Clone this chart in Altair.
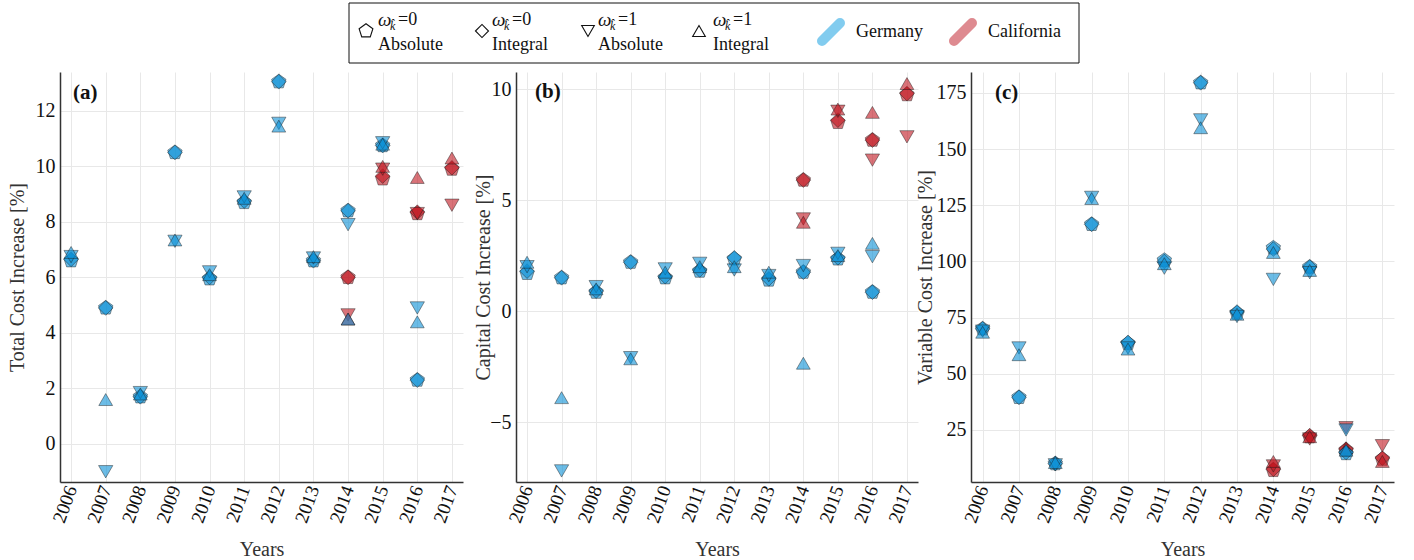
import altair as alt
import pandas as pd

# ---------------- data ----------------
YEARS_TICKS = [2006, 2007, 2008, 2009, 2010, 2011, 2012, 2013, 2014, 2015, 2016, 2017]
YEARS_DE = [2006, 2007, 2008, 2009, 2010, 2011, 2012, 2013, 2014, 2015, 2016]
YEARS_CA = [2014, 2015, 2016, 2017]
SERIES = ["w0 Absolute", "w0 Integral", "w1 Absolute", "w1 Integral"]
REGIONS = ["Germany", "California"]

# (a) Total cost increase [%]
a_de_w0_abs = [6.6, 4.9, 1.7, 10.5, 5.95, 8.7, 13.05, 6.6, 8.4, 10.75, 2.3]
a_de_w0_int = [6.65, 4.9, 1.7, 10.5, 6.0, 8.75, 13.05, 6.6, 8.4, 10.75, 2.3]
a_de_w1_abs = [6.75, -1.0, 1.85, 7.3, 6.2, 8.9, 11.55, 6.7, 7.9, 10.85, 4.9]
a_de_w1_int = [6.9, 1.6, 1.8, 7.35, 6.1, 8.85, 11.45, 6.75, 4.5, 10.8, 4.4]
a_ca_w0_abs = [6.0, 9.55, 8.3, 9.9]
a_ca_w0_int = [6.0, 9.65, 8.35, 9.95]
a_ca_w1_abs = [4.65, 9.9, 8.3, 8.6]
a_ca_w1_int = [4.5, 10.0, 9.6, 10.3]

# (b) Capital cost increase [%]
b_de_w0_abs = [1.7, 1.5, 0.85, 2.2, 1.5, 1.8, 2.35, 1.4, 1.75, 2.35, 0.85]
b_de_w0_int = [1.8, 1.5, 0.9, 2.2, 1.55, 1.85, 2.4, 1.45, 1.75, 2.4, 0.85]
b_de_w1_abs = [2.0, -7.2, 1.1, -2.1, 1.9, 2.15, 1.85, 1.6, 2.05, 2.6, 2.45]
b_de_w1_int = [2.2, -3.9, 1.0, -2.15, 1.75, 2.0, 2.0, 1.75, -2.35, 2.5, 3.05]
b_ca_w0_abs = [5.9, 8.5, 7.7, 9.75]
b_ca_w0_int = [5.9, 8.6, 7.7, 9.8]
b_ca_w1_abs = [4.15, 9.0, 6.8, 7.85]
b_ca_w1_int = [4.0, 9.1, 8.95, 10.25]

# (c) Variable cost increase [%]
c_de_w0_abs = [70, 39.5, 10, 116.5, 63.5, 100.5, 179.5, 77, 106, 97.5, 14.5]
c_de_w0_int = [70, 39.5, 10, 116.5, 64, 100, 179.5, 77.5, 105.5, 97.5, 15]
c_de_w1_abs = [69, 61.5, 9.5, 128.5, 61.5, 97, 163, 75.5, 92, 95, 25]
c_de_w1_int = [68.5, 58.5, 10.5, 128, 61, 99, 159.5, 76.5, 104, 96, 16]
c_ca_w0_abs = [7, 22, 16, 12]
c_ca_w0_int = [7.5, 22.5, 16.5, 12.5]
c_ca_w1_abs = [9, 21, 26, 18]
c_ca_w1_int = [11, 22, 17, 11]

LEGEND_LINE1 = ["=0", "=0", "=1", "=1"]
LEGEND_LINE2 = ["Absolute", "Integral", "Absolute", "Integral"]


def build(de_lists, ca_lists):
    rows = []
    for s, vals in zip(SERIES, ca_lists):
        for yr, v in zip(YEARS_CA, vals):
            rows.append({"year": yr, "value": v, "series": s, "region": "California"})
    for s, vals in zip(SERIES, de_lists):
        for yr, v in zip(YEARS_DE, vals):
            rows.append({"year": yr, "value": v, "series": s, "region": "Germany"})
    return pd.DataFrame(rows)


df_a = build([a_de_w0_abs, a_de_w0_int, a_de_w1_abs, a_de_w1_int],
             [a_ca_w0_abs, a_ca_w0_int, a_ca_w1_abs, a_ca_w1_int])
df_b = build([b_de_w0_abs, b_de_w0_int, b_de_w1_abs, b_de_w1_int],
             [b_ca_w0_abs, b_ca_w0_int, b_ca_w1_abs, b_ca_w1_int])
df_c = build([c_de_w0_abs, c_de_w0_int, c_de_w1_abs, c_de_w1_int],
             [c_ca_w0_abs, c_ca_w0_int, c_ca_w1_abs, c_ca_w1_int])

# ---------------- style ----------------
FONT = "Liberation Serif"
PENT = "M0,-1L0.951,-0.309L0.588,0.809L-0.588,0.809L-0.951,-0.309Z"
SHAPES = [PENT, "diamond", "triangle-down", "triangle-up"]
SIZES = [230, 190, 180, 180]
BLUE = "#0a8fd6"
RED = "#c0161f"
H = 410
one = pd.DataFrame({"k": [0]})


def panel(df, width, ydom, yticks, ytitle, title_x, label, lab_x, lab_y):
    pts = alt.Chart(df).mark_point(
        filled=True, opacity=1, fillOpacity=0.6,
        stroke="#1a1a1a", strokeWidth=0.8, strokeOpacity=0.55,
    ).encode(
        x=alt.X("year:Q",
                scale=alt.Scale(domain=[2005.68, 2017.32], nice=False, zero=False),
                axis=alt.Axis(values=YEARS_TICKS, format="d", labelAngle=290,
                              title="Years", titleX=width / 2, titleY=67,
                              titleBaseline="middle", labelPadding=4)),
        y=alt.Y("value:Q",
                scale=alt.Scale(domain=ydom, nice=False, zero=False),
                axis=alt.Axis(values=yticks, title=ytitle, titleX=title_x,
                              titleY=H / 2, titleBaseline="middle",
                              titleAlign="center", titleAngle=270,
                              labelPadding=5)),
        shape=alt.Shape("series:N", scale=alt.Scale(domain=SERIES, range=SHAPES), legend=None),
        size=alt.Size("series:N", scale=alt.Scale(domain=SERIES, range=SIZES), legend=None),
        color=alt.Color("region:N", scale=alt.Scale(domain=REGIONS, range=[BLUE, RED]), legend=None),
    )
    lab = alt.Chart(one).mark_text(
        text=label, font=FONT, fontSize=21, fontWeight="bold", align="left",
        baseline="middle", color="#111",
    ).encode(x=alt.value(lab_x), y=alt.value(lab_y))
    return pts, lab


pa, la = panel(df_a, 403, [-1.37, 13.4], [0, 2, 4, 6, 8, 10, 12],
               "Total Cost Increase [%]", -43, "(a)", 13, 21)
pb, lb = panel(df_b, 402, [-7.7, 10.77], [-5, 0, 5, 10],
               "Capital Cost Increase [%]", -33, "(b)", 19, 20)
pc, lc = panel(df_c, 423, [1.85, 184.3], [25, 50, 75, 100, 125, 150, 175],
               "Variable Cost Increase [%]", -46, "(c)", 24, 21)

# ---------------- legend (drawn in panel b, pixel offsets relative to its plot) ----------------
leg_layers = []
leg_layers.append(alt.Chart(one).mark_rect(fill="white", stroke="#111", strokeWidth=1).encode(
    x=alt.value(-167), x2=alt.value(563), y=alt.value(-69), y2=alt.value(-9)))
sym_x = [-150, -34, 72, 183]
txt_x = [-138, -24, 82, 197]
for i in range(4):
    leg_layers.append(alt.Chart(one).mark_point(
        shape=SHAPES[i], size=SIZES[i] - 20, filled=False, stroke="#111", strokeWidth=1.1, opacity=1
    ).encode(x=alt.value(sym_x[i]), y=alt.value(-41)))
    leg_layers.append(alt.Chart(one).mark_text(
        text="ω", font=FONT, fontSize=19, fontStyle="italic", align="left", baseline="middle", color="#111"
    ).encode(x=alt.value(txt_x[i]), y=alt.value(-52)))
    leg_layers.append(alt.Chart(one).mark_text(
        text="k̂", font=FONT, fontSize=12, fontStyle="italic", align="left", baseline="middle", color="#111"
    ).encode(x=alt.value(txt_x[i] + 12), y=alt.value(-46)))
    leg_layers.append(alt.Chart(one).mark_text(
        text=LEGEND_LINE1[i], font=FONT, fontSize=18, align="left", baseline="middle", color="#111"
    ).encode(x=alt.value(txt_x[i] + 20), y=alt.value(-52)))
    leg_layers.append(alt.Chart(one).mark_text(
        text=LEGEND_LINE2[i], font=FONT, fontSize=18, align="left", baseline="middle", color="#111"
    ).encode(x=alt.value(txt_x[i]), y=alt.value(-27)))

for x0, col, name in [(306, "#6cc3ec", "Germany"), (438, "#d8767d", "California")]:
    leg_layers.append(alt.Chart(one).mark_rule(
        color=col, strokeWidth=10, strokeCap="round", opacity=0.85
    ).encode(x=alt.value(x0), x2=alt.value(x0 + 18), y=alt.value(-31), y2=alt.value(-49)))
    leg_layers.append(alt.Chart(one).mark_text(
        text=name, font=FONT, fontSize=18, align="left", baseline="middle", color="#111"
    ).encode(x=alt.value(x0 + 34), y=alt.value(-40)))

ca = alt.layer(pa, la).properties(width=403, height=H)
cb = alt.layer(pb, lb, *leg_layers).properties(width=402, height=H)
cc = alt.layer(pc, lc).properties(width=423, height=H)

chart = alt.hconcat(ca, cb, cc, spacing=53, bounds="flush").properties(
    padding={"left": 7, "top": 2, "right": 5, "bottom": 5}
).configure_view(stroke=None).configure_axis(
    labelFont=FONT, labelFontSize=20, labelColor="#111",
    titleFont=FONT, titleFontSize=20, titleFontWeight="normal", titleColor="#333",
    domainColor="#333", domainWidth=1.5, ticks=False,
    gridColor="#e8e8e8", gridWidth=1,
).configure_axisX(labelFontSize=19)

chart.save("out.html", embed_options={"renderer": "svg", "actions": False})
